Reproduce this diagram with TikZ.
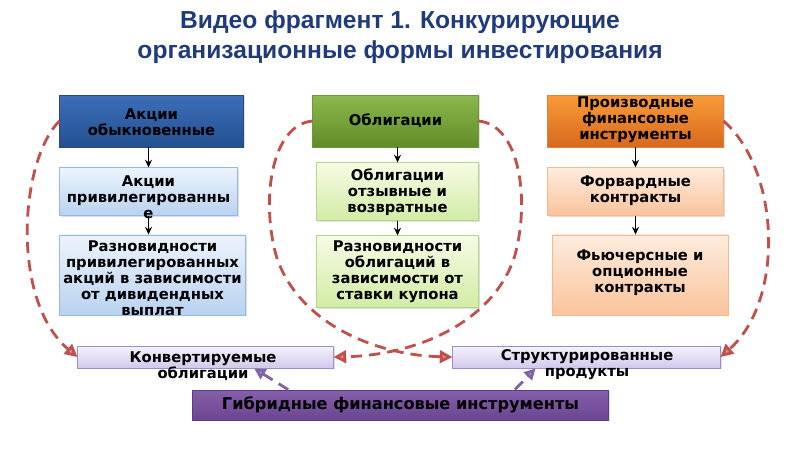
\documentclass[tikz,border=0pt]{standalone}
\usepackage{fontspec}
\setmainfont{DejaVu Sans}
\newfontfamily\titlefont{Liberation Sans}
\usetikzlibrary{arrows.meta,shadows,calc}

\definecolor{titleblue}{RGB}{31,59,123}
\definecolor{dashred}{RGB}{192,80,77}
\definecolor{dashredlight}{RGB}{225,140,135}
\definecolor{dashpurple}{RGB}{128,100,162}
\definecolor{dashpurplelight}{RGB}{175,155,205}

\begin{document}
\begin{tikzpicture}[x=0.025cm,y=-0.025cm,
    box/.style={draw, line width=0.6pt, inner sep=0pt,
      drop shadow={opacity=0.25,shadow xshift=1pt,shadow yshift=-1pt}},
    darkblue/.style={box, draw={rgb,255:red,40;green,75;blue,130},
      top color={rgb,255:red,62;green,110;blue,185}, bottom color={rgb,255:red,35;green,80;blue,145}},
    lightblue/.style={box, draw={rgb,255:red,150;green,185;blue,225},
      top color={rgb,255:red,236;green,244;blue,252}, bottom color={rgb,255:red,185;green,210;blue,240}},
    darkgreen/.style={box, draw={rgb,255:red,110;green,150;blue,60},
      top color={rgb,255:red,140;green,185;blue,75}, bottom color={rgb,255:red,95;green,140;blue,40}},
    lightgreen/.style={box, draw={rgb,255:red,180;green,215;blue,130},
      top color={rgb,255:red,246;green,251;blue,230}, bottom color={rgb,255:red,210;green,236;blue,165}},
    darkorange/.style={box, draw={rgb,255:red,220;green,130;blue,60},
      top color={rgb,255:red,250;green,155;blue,55}, bottom color={rgb,255:red,215;green,105;blue,30}},
    lightorange/.style={box, draw={rgb,255:red,245;green,185;blue,140},
      top color={rgb,255:red,253;green,236;blue,222}, bottom color={rgb,255:red,250;green,195;blue,155}},
    lavender/.style={box, draw={rgb,255:red,160;green,140;blue,200},
      top color={rgb,255:red,246;green,243;blue,252}, bottom color={rgb,255:red,210;green,200;blue,235}},
    violet/.style={box, draw={rgb,255:red,90;green,60;blue,130},
      top color={rgb,255:red,135;green,95;blue,170}, bottom color={rgb,255:red,105;green,70;blue,145}},
    boxtext/.style={align=center, inner sep=0pt, font=\fontsize{10.5}{11.4}\selectfont\bfseries},
    down/.style={-{Stealth[length=5.5pt,width=5pt]}, line width=0.9pt},
    reddash/.style={dashred, line width=2pt, dash pattern=on 8pt off 5pt,
      -{Triangle[length=9pt,width=9pt,fill=dashredlight]}},
    purpledash/.style={dashpurple, line width=2pt, dash pattern=on 8pt off 5pt,
      -{Triangle[length=8pt,width=8pt,fill=dashpurplelight]}}
  ]
    \useasboundingbox (0,0) rectangle (800,450);

    % title
    \node[align=center, text=titleblue, font=\titlefont\fontsize{17.5}{21.5}\selectfont\bfseries] (title) at (400,37)
      {Видео фрагмент 1. Конкурирующие\\организационные формы инвестирования};

    % shares
    \node[darkblue, minimum width=4.58cm, minimum height=1.3cm] (a1) at (151.5,121) {};
    \node[lightblue, minimum width=4.43cm, minimum height=1.18cm] (a2) at (148.5,191.5) {};
    \node[lightblue, minimum width=4.63cm, minimum height=2cm] (a3) at (152.5,275) {};
    \node[boxtext] (a1txt) at (151.5,122) {Акции\\обыкновенные};
    \node[boxtext] (a2txt) at (148.5,197) {Акции\\привилегированны\\е};
    \node[boxtext] (a3txt) at (152.5,278) {Разновидности\\привилегированных\\акций в зависимости\\от дивидендных\\выплат};

    % bonds
    \node[darkgreen, minimum width=4.13cm, minimum height=1.3cm] (b1) at (395.5,121) {};
    \node[lightgreen, minimum width=4.03cm, minimum height=1.43cm] (b2) at (397.5,191.5) {};
    \node[lightgreen, minimum width=4.03cm, minimum height=1.78cm] (b3) at (397.5,271.5) {};
    \node[boxtext] (b1txt) at (395.5,121) {Облигации};
    \node[boxtext] (b2txt) at (397.5,192) {Облигации\\отзывные и\\возвратные};
    \node[boxtext] (b3txt) at (397.5,272) {Разновидности\\облигаций в\\зависимости от\\ставки купона};

    % derivatives
    \node[darkorange, minimum width=4.38cm, minimum height=1.3cm] (c1) at (635.5,121) {};
    \node[lightorange, minimum width=4.38cm, minimum height=1.18cm] (c2) at (635.5,191.5) {};
    \node[lightorange, minimum width=4.4cm, minimum height=2cm] (c3) at (640,275) {};
    \node[boxtext] (c1txt) at (635.5,120) {Производные\\финансовые\\инструменты};
    \node[boxtext] (c2txt) at (635.5,191) {Форвардные\\контракты};
    \node[boxtext] (c3txt) at (640,273) {Фьючерсные и\\опционные\\контракты};

    % hybrids
    \node[lavender, minimum width=6.38cm, minimum height=0.55cm] (d1) at (205.5,357) {};
    \node[lavender, minimum width=6.68cm, minimum height=0.55cm] (d2) at (586.5,357) {};
    \node[violet, minimum width=10.38cm, minimum height=0.75cm] (e) at (400.5,405) {};
    \node[boxtext] (d1txt) at (203,366) {Конвертируемые\\облигации};
    \node[boxtext] (d2txt) at (587,365) {Структурированные\\продукты};
    \node[boxtext, font=\fontsize{11.5}{13}\selectfont\bfseries] (etxt) at (400.5,405) {Гибридные финансовые инструменты};

    \draw[down] (a2.north |- a1.south) -- (a2.north);
    \draw[down] (a2.south) -- (a2.south |- a3.north);
    \draw[down] (b2.north |- b1.south) -- (b2.north);
    \draw[down] (b2.south) -- (b2.south |- b3.north);
    \draw[down] (c1.south) -- (c2.north);
    \draw[down] (c2.south) -- (c2.south |- c3.north);

    \draw[reddash] (a1.west) .. controls (20,160) and (10,300) .. (d1.west);
    \draw[reddash] (c1.east) .. controls (780,170) and (785,300) .. (d2.east);
    \draw[reddash] (b1.west) .. controls (271,125) and (261,200) .. (276,255)
      .. controls (296,320) and (371,355) .. (d2.west);
    \draw[reddash] (b1.east) .. controls (520,125) and (530,200) .. (515,255)
      .. controls (495,320) and (420,355) .. (d1.east);

    \draw[purpledash] ($(e.north west)!0.23!(e.north east)$) -- ($(d1.south west)!0.69!(d1.south east)$);
    \draw[purpledash] ($(e.north west)!0.775!(e.north east)$) -- ($(d2.south west)!0.31!(d2.south east)$);

\end{tikzpicture}
\end{document}
